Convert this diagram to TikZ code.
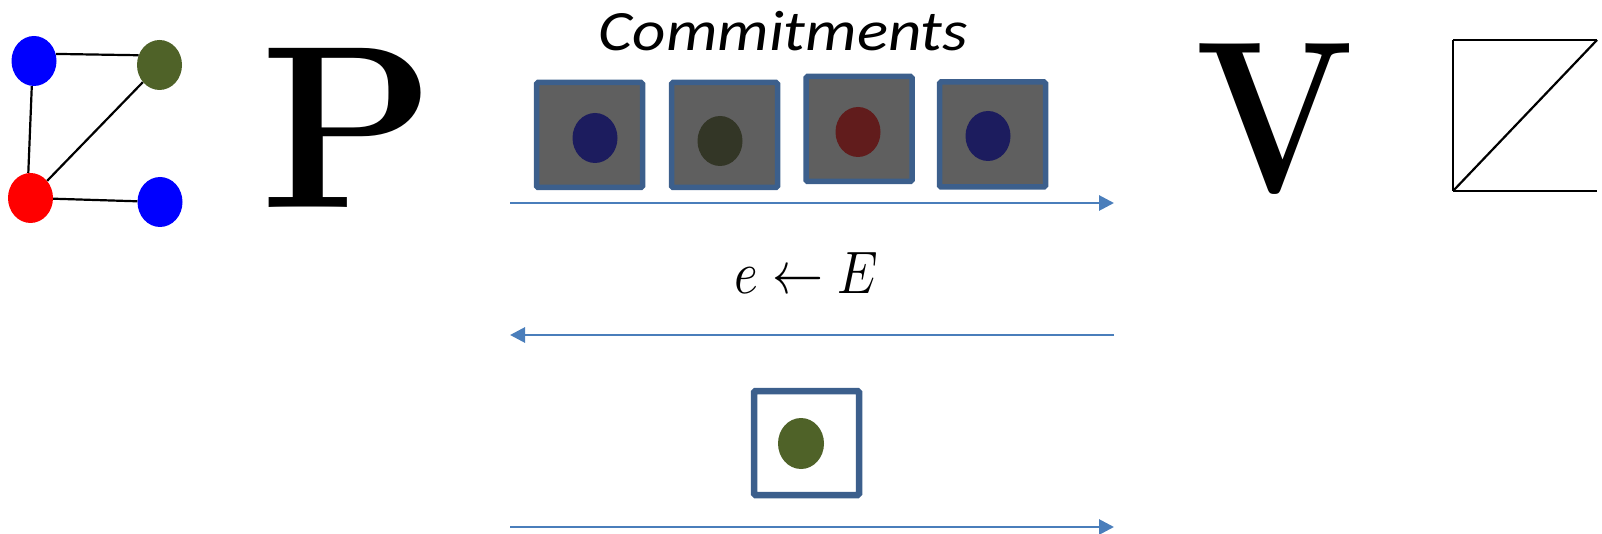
\documentclass[tikz,border=0pt]{standalone}
\usepackage{fontspec}
\newfontfamily\commfont{Carlito}
\usetikzlibrary{arrows.meta,shapes.geometric}
\definecolor{vblue}{RGB}{0,0,255}
\definecolor{vred}{RGB}{255,0,0}
\definecolor{vgreen}{RGB}{79,98,40}
\definecolor{boxline}{RGB}{60,95,140}
\definecolor{boxgray}{RGB}{95,95,95}
\definecolor{msgblue}{RGB}{74,126,187}
\definecolor{hidblue}{RGB}{28,28,94}
\definecolor{hidgreen}{RGB}{51,54,38}
\definecolor{hidred}{RGB}{97,28,28}
\begin{document}
\begin{tikzpicture}[x=1pt, y=-1pt,
        vertex/.style={ellipse, minimum width=45pt, minimum height=50pt, inner sep=0pt},
        edge/.style={line width=2.2pt},
        commit/.style={draw=boxline, line width=5.5pt, fill=boxgray, rounded corners=1.5pt, minimum width=106pt, minimum height=105pt, inner sep=0pt},
        hidden/.style={ellipse, minimum width=45pt, minimum height=50pt, inner sep=0pt},
        msg/.style={draw=msgblue, line width=2.8pt, -{Triangle[length=15pt, width=15pt]}},
        party/.style={inner sep=0pt, anchor=base}]

        \useasboundingbox (0,0) rectangle (1602,534);

        \node[vertex, fill=vblue] at (34, 61) (a){};
        \node[vertex, fill=vgreen] at (159.5, 65) (b){};
        \node[vertex, fill=vred] at (30.5, 198) (c){};
        \node[vertex, fill=vblue] at (160, 202) (d){};

        \draw[edge] (a.18) -- (b.155);
        \draw[edge] (a.265) -- (c.95);
        \draw[edge] (c) -- (b);
        \draw[edge] (c) -- (d);

        \node[party, font=\fontsize{232}{232}\selectfont\bfseries, xscale=0.98] at (348, 208) (prover){P};
        \node[party, font=\fontsize{217}{217}\selectfont\bfseries, xscale=0.86] at (1274.5, 193) (verifier){V};

        \coordinate (q1) at (1453, 40);
        \coordinate (q2) at (1597, 40);
        \coordinate (q3) at (1453, 191);
        \coordinate (q4) at (1597, 191);

        \draw[edge] (q1) -- (q2);
        \draw[edge] (q1) -- (q3);
        \draw[edge] (q3) -- (q2);
        \draw[edge] (q3) -- (q4);

        \node[party, font=\commfont\itshape\fontsize{57}{57}\selectfont, xscale=1.14] at (783.5, 51) (commitments){Commitments};

        \node[commit] at (589.5, 135) (com1){};
        \node[commit] at (724.5, 135) (com2){};
        \node[commit] at (859, 129) (com3){};
        \node[commit] at (992.5, 134.5) (com4){};

        \node[hidden, fill=hidblue] at (595, 138) (dot1){};
        \node[hidden, fill=hidgreen] at (720, 141) (dot2){};
        \node[hidden, fill=hidred] at (858, 132) (dot3){};
        \node[hidden, fill=hidblue] at (988, 136) (dot4){};

        \coordinate (s1) at (510, 203);
        \coordinate (t1) at (1114, 203);
        \draw[msg] (s1) -- (t1);

        \node[party, xscale=5.1, yscale=6] at (806, 294) (challenge){$e \leftarrow E$};

        \coordinate (s2) at (1114, 335);
        \coordinate (t2) at (510, 335);
        \draw[msg] (s2) -- (t2);

        \node[commit, fill=white, line width=6.5pt, minimum width=105pt, minimum height=104pt] at (806.5, 443) (opening){};
        \node[hidden, fill=vgreen, minimum width=46pt, minimum height=51pt] at (801, 443.5) (revealed){};

        \coordinate (s3) at (510, 527);
        \coordinate (t3) at (1114, 527);
        \draw[msg] (s3) -- (t3);
\end{tikzpicture}
\end{document}
